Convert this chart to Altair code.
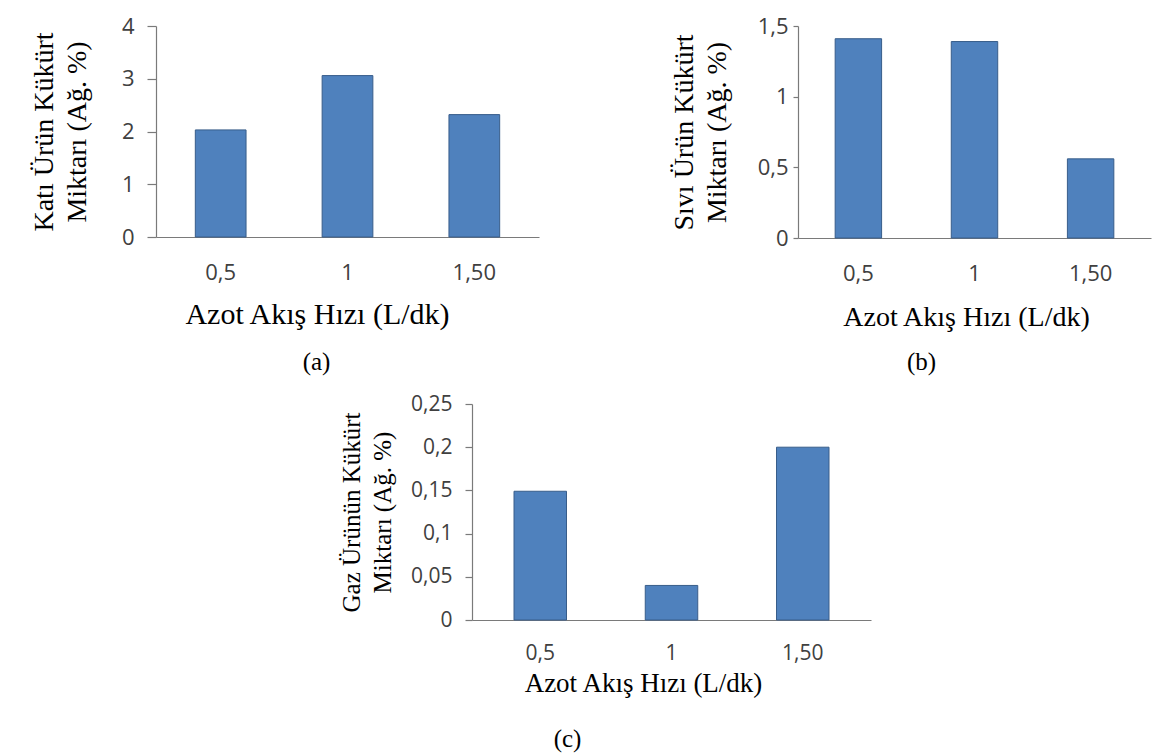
import altair as alt
import pandas as pd

categories = ["0,5", "1", "1,50"]
solid_values = [2.03, 3.06, 2.32]
liquid_values = [1.41, 1.39, 0.56]
gas_values = [0.149, 0.04, 0.2]

solid_ticks = [0, 1, 2, 3, 4]
liquid_ticks = [0, 0.5, 1, 1.5]
gas_ticks = [0, 0.05, 0.1, 0.15, 0.2, 0.25]

x_title = "Azot Akış Hızı (L/dk)"
solid_title = ["Katı Ürün Kükürt", "Miktarı (Ağ. %)"]
liquid_title = ["Sıvı Ürün Kükürt", "Miktarı (Ağ. %)"]
gas_title = ["Gaz Ürünün Kükürt", "Miktarı (Ağ. %)"]
captions = ["(a)", "(b)", "(c)"]

BAR = "#4F81BD"
EDGE = "#385D8A"
AXC = "#7a7a7a"


def panel(values, ticks, ymax, ytitle, caption, w, h, po,
          tick_size, label_pad, y_title_pad, y_title_size, y_line_h,
          x_label_pad, x_title_pad, x_title_size, x_title_x,
          label_size, cap_dx, cap_offset):
    df = pd.DataFrame({"cat": categories, "val": values})
    return alt.Chart(df).mark_bar(
        color=BAR, stroke=EDGE, strokeWidth=1
    ).encode(
        x=alt.X(
            "cat:N", sort=categories,
            scale=alt.Scale(paddingInner=0.6, paddingOuter=po),
            axis=alt.Axis(
                title=x_title, labelAngle=0, ticks=False,
                labelPadding=x_label_pad, labelFontSize=label_size,
                titlePadding=x_title_pad, titleFontSize=x_title_size,
                titleX=x_title_x, titleAnchor="middle",
            ),
        ),
        y=alt.Y(
            "val:Q",
            scale=alt.Scale(domain=[0, ymax], nice=False, zero=True),
            axis=alt.Axis(
                values=ticks,
                labelExpr="replace(toString(datum.value), '.', ',')",
                title=ytitle, grid=False, tickSize=tick_size,
                labelPadding=label_pad, labelFontSize=label_size,
                titlePadding=y_title_pad, titleFontSize=y_title_size,
                titleLineHeight=y_line_h,
            ),
        ),
    ).properties(
        width=w, height=h,
        title=alt.TitleParams(
            caption, orient="bottom", frame="group", anchor="middle",
            dx=cap_dx, offset=cap_offset,
            font="Liberation Serif", fontSize=25, fontWeight="normal",
            color="#000000",
        ),
    )


pa = panel(solid_values, solid_ticks, 4, solid_title, captions[0],
           383, 211, 0.31, 9, 13, 30, 28, 33,
           25, 16, 30, 161, 22, -31, 21)
pb = panel(liquid_values, liquid_ticks, 1.5, liquid_title, captions[1],
           353, 212, 0.32, 5, 5, 26, 28, 33,
           25, 19, 28, 168, 22, -53, 19)
pc = panel(gas_values, gas_ticks, 0.25, gas_title, captions[2],
           399, 216, 0.32, 7, 13, 15, 25, 31,
           22, 7, 27, 171, 21, -104, 31)

spacer = alt.Chart(pd.DataFrame({"v": [0]})).mark_point(size=0, opacity=0).encode(
    x=alt.X("v:Q", axis=None), y=alt.Y("v:Q", axis=None)
).properties(width=183, height=10)

top = alt.hconcat(pa, pb, spacing=131)
bottom = alt.hconcat(spacer, pc, spacing=0)

chart = alt.vconcat(top, bottom, spacing=18).properties(
    padding={"left": 22, "top": 7, "right": 5, "bottom": 5},
    background="#ffffff",
).configure_view(
    strokeWidth=0
).configure_axis(
    labelFont="Open Sans", labelColor="#404040",
    titleFont="Liberation Serif", titleFontWeight="normal", titleColor="#000000",
    domainColor=AXC, tickColor=AXC, domainWidth=1.2, tickWidth=1.2,
)

chart.save("out.html", embed_options={"renderer": "svg", "actions": False})
